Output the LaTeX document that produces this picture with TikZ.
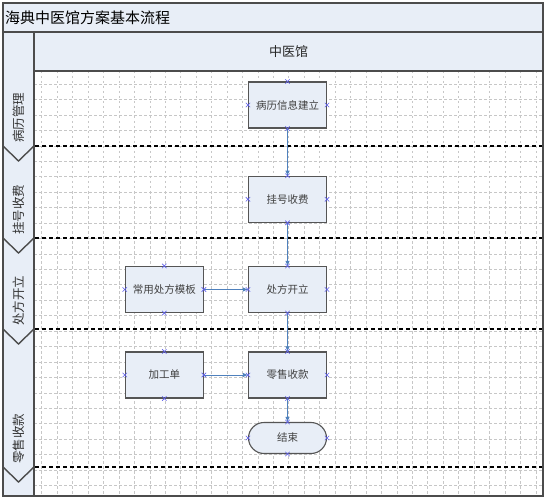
\documentclass[tikz,border=0pt]{standalone}
\usepackage{fontspec}
\setmainfont{Noto Sans CJK SC}
\usetikzlibrary{arrows.meta}
\definecolor{lb}{RGB}{232,238,247}
\definecolor{conn}{RGB}{79,129,189}
\definecolor{mk}{RGB}{95,95,235}
\definecolor{bord}{RGB}{85,85,85}
\begin{document}
\begin{tikzpicture}[x=1pt,y=-1pt,
 proc/.style={draw=bord,line width=1.1pt,fill=lb,minimum width=78pt,minimum height=46pt,inner sep=0pt,font=\fontsize{10.5}{12}\selectfont,text=black!75},
 term/.style={proc,rounded corners=15.5pt,minimum height=31pt},
 flow/.style={draw=conn,line width=0.8pt,-{Latex[length=5pt,width=4.5pt]}},
 lanelbl/.style={rotate=90,anchor=west,font=\fontsize{12.5}{14}\selectfont,text=black!80,inner sep=0pt},
 sepline/.style={draw=black,line width=1.8pt,dash pattern=on 4pt off 3pt},
 gridln/.style={draw=black!22,line width=0.5pt,dash pattern=on 2.5pt off 2.5pt},
 frameln/.style={draw=black!70,line width=1.4pt},
 cpm/.style={draw=mk,line width=0.6pt}
]
\useasboundingbox (0,0) rectangle (549,500);
% backgrounds
\fill[lb] (3,3) rectangle (543,71);
\fill[lb] (3,32) rectangle (34,496);
\fill[white] (34,71) rectangle (543,496);
% grid
\foreach \i in {0,...,32} \draw[gridln] ({41.7+15.44*\i},71) -- ({41.7+15.44*\i},496);
\foreach \j in {0,...,26} \draw[gridln] (34,{84+15.44*\j}) -- (543,{84+15.44*\j});
% lane separators and chevrons
\foreach \yb in {146,238,329,467} {
  \draw[sepline] (35,\yb) -- (543,\yb);
  \draw[frameln] (3,\yb) -- (18.5,{\yb+15}) -- (34,\yb);
}
% frame
\draw[frameln] (3,3) rectangle (543,496);
\draw[frameln] (3,32) -- (543,32);
\draw[frameln] (34,71) -- (543,71);
\draw[frameln] (34,32) -- (34,496);
% titles
\node[anchor=west,inner sep=0pt,font=\fontsize{15}{17}\selectfont] (title) at (5,17.5) {海典中医馆方案基本流程};
\node[inner sep=0pt,font=\fontsize{13}{15}\selectfont,text=black!85] (hdr) at (288.5,51.5) {中医馆};
% lane labels
\node[lanelbl] (l1) at (19,143) {病历管理};
\node[lanelbl] (l2) at (19,235) {挂号收费};
\node[lanelbl] (l3) at (19,326) {处方开立};
\node[lanelbl] (l4) at (19,464) {零售收款};
% boxes
\node[proc] (n1) at (287.5,105) {病历信息建立};
\node[proc] (n2) at (287.5,199.3) {挂号收费};
\node[proc] (n3) at (287.5,289.5) {处方开立};
\node[proc] (n4) at (164.3,289.5) {常用处方模板};
\node[proc] (n5) at (287.5,375) {零售收款};
\node[proc] (n6) at (164.3,375) {加工单};
\node[term] (n7) at (287.5,438) {结束};
% connectors
\draw[flow] (n1.south) -- (n2.north);
\draw[flow] (n2.south) -- (n3.north);
\draw[flow] (n4.east) -- (n3.west);
\draw[flow] (n3.south) -- (n5.north);
\draw[flow] (n6.east) -- (n5.west);
\draw[flow] (n5.south) -- (n7.north);
% connection point markers
\foreach \n in {n1,n2,n3,n4,n5,n6,n7}
  \foreach \s in {north,south,east,west}
    \draw[cpm] (\n.\s) ++(-2.2,-2.2) -- ++(4.4,4.4) ++(-4.4,0) -- ++(4.4,-4.4);
\end{tikzpicture}
\end{document}
